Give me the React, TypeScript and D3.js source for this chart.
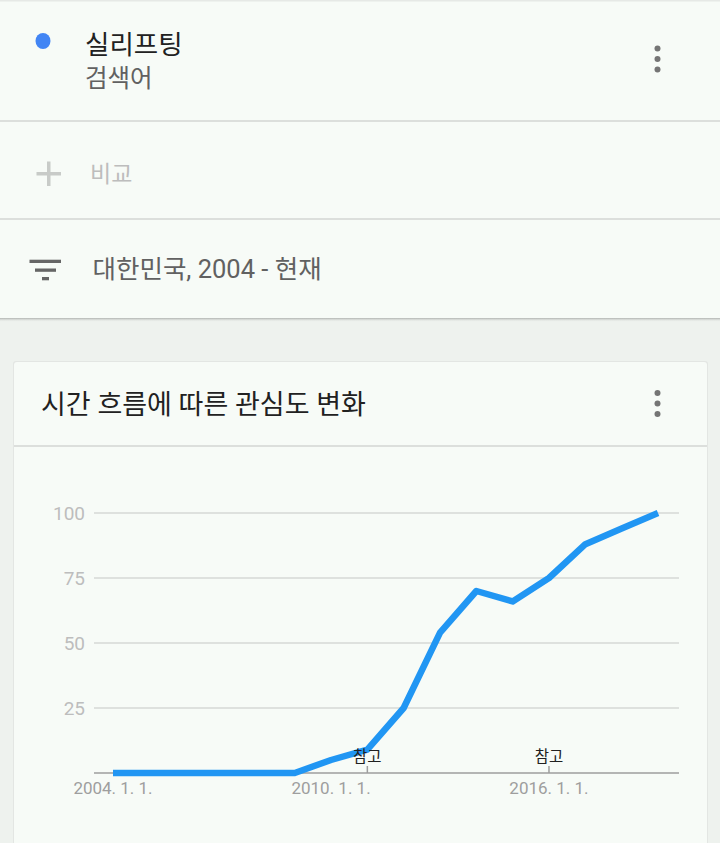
import React from "react";
import * as d3 from "d3";

const years: number[] = [2004, 2005, 2006, 2007, 2008, 2009, 2010, 2011, 2012, 2013, 2014, 2015, 2016, 2017, 2018, 2019];
const interest: number[] = [0, 0, 0, 0, 0, 0, 5, 9, 25, 54, 70, 66, 75, 88, 94, 100];
const yTicks: number[] = [25, 50, 75, 100];
const xTickYears: number[] = [2004, 2010, 2016];
const xTickLabels: string[] = ["2004. 1. 1.", "2010. 1. 1.", "2016. 1. 1."];
const noteYears: number[] = [2011, 2016];
const noteLabel = "참고";

const termName = "실리프팅";
const termType = "검색어";
const compareLabel = "비교";
const filterLabel = "대한민국, 2004 - 현재";
const chartTitle = "시간 흐름에 따른 관심도 변화";

const W = 720;
const H = 843;
const KR = "Roboto, 'Noto Sans CJK KR', sans-serif";

function Dots({ cx, cy }: { cx: number; cy: number }) {
  return (
    <g fill="#757575">
      <circle cx={cx} cy={cy - 10.5} r={3} />
      <circle cx={cx} cy={cy} r={3} />
      <circle cx={cx} cy={cy + 10.5} r={3} />
    </g>
  );
}

export default function App() {
  const x = d3
    .scaleTime()
    .domain([new Date(2004, 0, 1), new Date(2019, 0, 1)])
    .range([113, 658]);
  const y = d3.scaleLinear().domain([0, 100]).range([773, 513]);
  const data = years.map((yr, i) => ({ d: new Date(yr, 0, 1), v: interest[i] }));
  const line = d3
    .line<{ d: Date; v: number }>()
    .x((p) => x(p.d))
    .y((p) => y(p.v));

  return (
    <svg
      width={W}
      height={H}
      style={{ position: "absolute", left: 0, top: 0, display: "block" }}
    >
      <defs>
        <linearGradient id="shadowTop" x1="0" y1="0" x2="0" y2="1">
          <stop offset="0" stopColor="#a9aca9" stopOpacity="0.9" />
          <stop offset="1" stopColor="#eef2ee" stopOpacity="0" />
        </linearGradient>
      </defs>
      <rect x={0} y={0} width={W} height={H} fill="#eef2ee" />
      {/* top section */}
      <rect x={0} y={0} width={W} height={318} fill="#f7fbf7" />
      <rect x={0} y={318} width={W} height={4} fill="url(#shadowTop)" />
      <rect x={0} y={0} width={W} height={1.5} fill="#e6e9e6" />
      <ellipse cx={43} cy={41} rx={7.5} ry={8} fill="#4285f4" />
      <text x={85} y={54} fontFamily={KR} fontSize={26.5} fill="#212121">
        {termName}
      </text>
      <text x={85} y={87} fontFamily={KR} fontSize={24.5} fill="#616161">
        {termType}
      </text>
      <Dots cx={657.5} cy={59} />
      <rect x={0} y={120} width={W} height={2} fill="#dcdfdc" />
      <g fill="#c8cbc8">
        <rect x={36.5} y={172} width={24.5} height={3.5} />
        <rect x={47} y={161.5} width={3.5} height={24.5} />
      </g>
      <text x={90} y={182} fontFamily={KR} fontSize={23} fill="#bdbdbd">
        {compareLabel}
      </text>
      <rect x={0} y={218} width={W} height={2} fill="#dcdfdc" />
      <g fill="#666">
        <rect x={29.5} y={259.7} width={31.5} height={3.3} />
        <rect x={35} y={268.5} width={21} height={3.3} />
        <rect x={42} y={277} width={7} height={3.3} />
      </g>
      <text x={92.5} y={277.5} fontFamily={KR} fontSize={25.5} fill="#616161">
        {filterLabel}
      </text>

      {/* card */}
      <rect x={13} y={361} width={695} height={500} rx={3} fill="#e3e6e3" />
      <rect x={14} y={362} width={693} height={500} rx={3} fill="#f7fbf7" />
      <text x={41} y={414} fontFamily={KR} fontSize={27} fill="#212121">
        {chartTitle}
      </text>
      <Dots cx={657.5} cy={403.5} />
      <rect x={14} y={445} width={693} height={2} fill="#dcdfdc" />

      {/* chart */}
      <g>
        {yTicks.map((t) => (
          <g key={t}>
            <line x1={94} x2={679} y1={y(t)} y2={y(t)} stroke="#d6d8d6" strokeWidth={1.5} />
            <text
              x={85}
              y={y(t) + 7}
              textAnchor="end"
              fontFamily="Roboto, sans-serif"
              fontSize={19}
              fill="#bdbdbd"
            >
              {t}
            </text>
          </g>
        ))}
        <line x1={94} x2={679} y1={y(0)} y2={y(0)} stroke="#9e9e9e" strokeWidth={1.5} />
        {xTickYears.map((yr, i) => (
          <text
            key={yr}
            x={x(new Date(yr, 0, 1))}
            y={794}
            textAnchor="middle"
            fontFamily="Roboto, sans-serif"
            fontSize={17}
            fill="#9e9e9e"
          >
            {xTickLabels[i]}
          </text>
        ))}
        <path
          d={line(data) || ""}
          fill="none"
          stroke="#2196f3"
          strokeWidth={6.5}
          strokeLinejoin="round"
          strokeLinecap="butt"
        />
        {noteYears.map((yr) => {
          const nx = x(new Date(yr, 0, 1));
          return (
            <g key={yr}>
              <line x1={nx} x2={nx} y1={y(0)} y2={y(0) - 7} stroke="#9e9e9e" strokeWidth={1.5} />
              <text
                x={nx}
                y={762}
                textAnchor="middle"
                fontFamily={KR}
                fontSize={15.5}
                fill="#212121"
              >
                {noteLabel}
              </text>
            </g>
          );
        })}
      </g>
    </svg>
  );
}
